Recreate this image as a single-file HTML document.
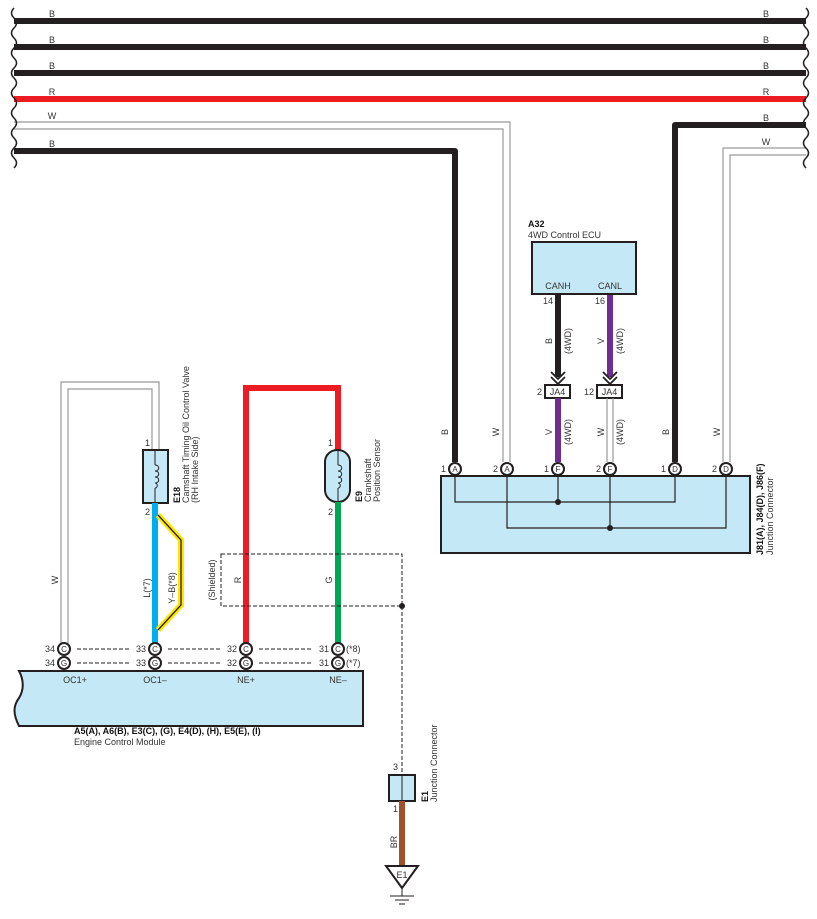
<!DOCTYPE html>
<html><head><meta charset="utf-8"><style>
html,body{margin:0;padding:0;background:#fff;}
svg{display:block;}
text{font-family:"Liberation Sans",sans-serif;font-size:9px;fill:#333;}
.b{font-weight:bold;fill:#111;}
</style></head><body>
<svg width="817" height="919" viewBox="0 0 817 919" xmlns="http://www.w3.org/2000/svg">
<!-- top wires -->
<g fill="none" stroke-linejoin="round">
<line x1="14" y1="21" x2="806" y2="21" stroke="#231f20" stroke-width="6"/>
<line x1="14" y1="47" x2="806" y2="47" stroke="#231f20" stroke-width="6"/>
<line x1="14" y1="73" x2="806" y2="73" stroke="#231f20" stroke-width="6"/>
<line x1="14" y1="99" x2="806" y2="99" stroke="#ed1c24" stroke-width="6"/>
<path d="M14 122 H510 V462" stroke="#999" stroke-width="1.2"/>
<path d="M14 129 H503 V462" stroke="#999" stroke-width="1.2"/>
<path d="M14 151 H455 V462" stroke="#231f20" stroke-width="6"/>
<path d="M806 125 H675 V462" stroke="#231f20" stroke-width="6"/>
<path d="M806 148 H723 V462" stroke="#999" stroke-width="1.2"/>
<path d="M806 155 H730 V462" stroke="#999" stroke-width="1.2"/>
<!-- squiggles -->
<path d="M14 8 q-5 5 0 10 q5 5 0 10 q-5 5 0 10 q5 5 0 10 q-5 5 0 10 q5 5 0 10 q-5 5 0 10 q5 5 0 10 q-5 5 0 10 q5 5 0 10 q-5 5 0 10 q5 5 0 10 q-5 5 0 10 q5 5 0 10 q-5 5 0 10 q5 5 0 10" stroke="#231f20" stroke-width="1.5"/>
<path d="M806 8 q5 5 0 10 q-5 5 0 10 q5 5 0 10 q-5 5 0 10 q5 5 0 10 q-5 5 0 10 q5 5 0 10 q-5 5 0 10 q5 5 0 10 q-5 5 0 10 q5 5 0 10 q-5 5 0 10 q5 5 0 10 q-5 5 0 10 q5 5 0 10 q-5 5 0 10" stroke="#231f20" stroke-width="1.5"/>
</g>
<g text-anchor="middle">
<text x="52" y="17">B</text><text x="52" y="43">B</text><text x="52" y="69">B</text><text x="52" y="95">R</text><text x="52" y="119">W</text><text x="52" y="147">B</text>
<text x="766" y="17">B</text><text x="766" y="43">B</text><text x="766" y="69">B</text><text x="766" y="95">R</text><text x="766" y="121">B</text><text x="766" y="145">W</text>
</g>
<!-- A32 ECU -->
<text x="528" y="227" class="b">A32</text>
<text x="528" y="238">4WD Control ECU</text>
<rect x="532" y="242" width="104" height="52" fill="#c5e8f7" stroke="#231f20" stroke-width="2"/>
<text x="558" y="289" text-anchor="middle">CANH</text>
<text x="610" y="289" text-anchor="middle">CANL</text>
<line x1="558" y1="295" x2="558" y2="377" stroke="#231f20" stroke-width="6"/>
<line x1="610" y1="295" x2="610" y2="377" stroke="#6f2c91" stroke-width="6"/>
<g fill="none" stroke="#231f20" stroke-width="1.8">
<path d="M551 372 l7 7 l7 -7 M551 377 l7 7 l7 -7"/>
<path d="M603 372 l7 7 l7 -7 M603 377 l7 7 l7 -7"/>
</g>
<text x="553" y="304" text-anchor="end">14</text><text x="605" y="304" text-anchor="end">16</text>
<rect x="545" y="385" width="25" height="13" fill="#fff" stroke="#231f20" stroke-width="2"/>
<rect x="597" y="385" width="25" height="13" fill="#fff" stroke="#231f20" stroke-width="2"/>
<text x="557.5" y="395" text-anchor="middle">JA4</text><text x="609.5" y="395" text-anchor="middle">JA4</text>
<text x="542" y="395" text-anchor="end">2</text><text x="594" y="395" text-anchor="end">12</text>
<line x1="558" y1="398" x2="558" y2="462" stroke="#6f2c91" stroke-width="6"/>
<line x1="607" y1="398" x2="607" y2="462" stroke="#999" stroke-width="1.2"/>
<line x1="613" y1="398" x2="613" y2="462" stroke="#999" stroke-width="1.2"/>
<!-- rotated labels -->
<g>
<text transform="translate(552,341) rotate(-90)" text-anchor="middle">B</text>
<text transform="translate(571,341) rotate(-90)" text-anchor="middle">(4WD)</text>
<text transform="translate(604,341) rotate(-90)" text-anchor="middle">V</text>
<text transform="translate(623,341) rotate(-90)" text-anchor="middle">(4WD)</text>
<text transform="translate(448,432) rotate(-90)" text-anchor="middle">B</text>
<text transform="translate(499,432) rotate(-90)" text-anchor="middle">W</text>
<text transform="translate(552,432) rotate(-90)" text-anchor="middle">V</text>
<text transform="translate(571,432) rotate(-90)" text-anchor="middle">(4WD)</text>
<text transform="translate(604,432) rotate(-90)" text-anchor="middle">W</text>
<text transform="translate(623,432) rotate(-90)" text-anchor="middle">(4WD)</text>
<text transform="translate(669,432) rotate(-90)" text-anchor="middle">B</text>
<text transform="translate(720,432) rotate(-90)" text-anchor="middle">W</text>
</g>
<!-- Junction connector box -->
<rect x="441" y="476" width="309" height="77" fill="#c5e8f7" stroke="#231f20" stroke-width="2"/>
<g fill="none" stroke="#231f20" stroke-width="1.2">
<path d="M455 474 V502 H675 V474"/><line x1="558" y1="474" x2="558" y2="502"/>
<path d="M507 474 V528 H726 V474"/><line x1="610" y1="474" x2="610" y2="528"/>
</g>
<circle cx="558" cy="502" r="3" fill="#231f20"/><circle cx="610" cy="528" r="3" fill="#231f20"/>
<g stroke="#231f20" stroke-width="2" fill="#fff">
<circle cx="455" cy="469" r="6"/><circle cx="507" cy="469" r="6"/><circle cx="558" cy="469" r="6"/><circle cx="610" cy="469" r="6"/><circle cx="675" cy="469" r="6"/><circle cx="726" cy="469" r="6"/>
</g>
<g text-anchor="middle" font-size="8">
<text x="455" y="472" style="font-size:8px">A</text><text x="507" y="472" style="font-size:8px">A</text><text x="558" y="472" style="font-size:8px">F</text><text x="610" y="472" style="font-size:8px">F</text><text x="675" y="472" style="font-size:8px">D</text><text x="726" y="472" style="font-size:8px">D</text>
</g>
<text x="446" y="472" text-anchor="end">1</text><text x="498" y="472" text-anchor="end">2</text><text x="549" y="472" text-anchor="end">1</text><text x="601" y="472" text-anchor="end">2</text><text x="666" y="472" text-anchor="end">1</text><text x="717" y="472" text-anchor="end">2</text>
<text transform="translate(763,555) rotate(-90)" class="b">J81(A), J84(D), J86(F)</text>
<text transform="translate(773,555) rotate(-90)">Junction Connector</text>
<!-- left W loop -->
<path d="M61 643 V382 H159 V450" fill="none" stroke="#999" stroke-width="1.2"/>
<path d="M68 643 V389 H152 V450" fill="none" stroke="#999" stroke-width="1.2"/>
<text transform="translate(58,580) rotate(-90)" text-anchor="middle">W</text>
<!-- E18 -->
<rect x="143" y="450" width="25" height="53" fill="#c5e8f7" stroke="#231f20" stroke-width="2"/>
<path d="M155 451 V465 M155 488 V502" stroke="#231f20" stroke-width="1"/>
<path d="M155 465 c5 0 5 6 0 6 c5 0 5 6 0 6 c5 0 5 6 0 6 c3 0 3 5 0 5" fill="none" stroke="#231f20" stroke-width="1"/>
<text x="150" y="446" text-anchor="end">1</text><text x="150" y="515" text-anchor="end">2</text>
<text transform="translate(180,503) rotate(-90)" class="b">E18</text>
<text transform="translate(189,503) rotate(-90)">Camshaft Timing Oil Control Valve</text>
<text transform="translate(198,503) rotate(-90)">(RH Intake Side)</text>
<line x1="155" y1="503" x2="155" y2="643" stroke="#00aeef" stroke-width="6"/>
<path d="M158 515 L181 540 V605 L158 630" fill="none" stroke="#ffe600" stroke-width="6"/>
<path d="M158 515 L181 540 V605 L158 630" fill="none" stroke="#231f20" stroke-width="1.3"/>
<text transform="translate(150,588) rotate(-90)" text-anchor="middle">L(*7)</text>
<text transform="translate(175,588) rotate(-90)" text-anchor="middle">Y–B(*8)</text>
<!-- red loop -->
<path d="M246 643 V388 H338 V450" fill="none" stroke="#ed1c24" stroke-width="6"/>
<!-- E9 -->
<rect x="325" y="450" width="25" height="52" rx="12" fill="#c5e8f7" stroke="#231f20" stroke-width="2"/>
<path d="M338 451 V465 M338 488 V501" stroke="#231f20" stroke-width="1"/>
<path d="M338 465 c5 0 5 6 0 6 c5 0 5 6 0 6 c5 0 5 6 0 6 c3 0 3 5 0 5" fill="none" stroke="#231f20" stroke-width="1"/>
<text x="333" y="446" text-anchor="end">1</text><text x="333" y="515" text-anchor="end">2</text>
<text transform="translate(362,502) rotate(-90)" class="b">E9</text>
<text transform="translate(371,502) rotate(-90)">Crankshaft</text>
<text transform="translate(380,502) rotate(-90)">Position Sensor</text>
<line x1="338" y1="502" x2="338" y2="643" stroke="#00a651" stroke-width="6"/>
<text transform="translate(241,580) rotate(-90)" text-anchor="middle">R</text>
<text transform="translate(332,580) rotate(-90)" text-anchor="middle">G</text>
<!-- shield -->
<rect x="221" y="554" width="181" height="52" fill="none" stroke="#231f20" stroke-width="1" stroke-dasharray="4,2"/>
<text transform="translate(215,580) rotate(-90)" text-anchor="middle">(Shielded)</text>
<circle cx="402" cy="606" r="3" fill="#231f20"/>
<line x1="402" y1="606" x2="402" y2="775" stroke="#231f20" stroke-width="1" stroke-dasharray="4,2"/>
<!-- ECM pins -->
<g stroke="#231f20" stroke-width="1" stroke-dasharray="4,2">
<line x1="77" y1="649" x2="130" y2="649"/><line x1="77" y1="663" x2="130" y2="663"/>
<line x1="168" y1="649" x2="221" y2="649"/><line x1="168" y1="663" x2="221" y2="663"/>
<line x1="259" y1="649" x2="313" y2="649"/><line x1="259" y1="663" x2="313" y2="663"/>
</g>
<g stroke="#231f20" stroke-width="2" fill="#fff">
<circle cx="64" cy="649" r="6"/><circle cx="64" cy="663" r="6"/>
<circle cx="155" cy="649" r="6"/><circle cx="155" cy="663" r="6"/>
<circle cx="246" cy="649" r="6"/><circle cx="246" cy="663" r="6"/>
<circle cx="338" cy="649" r="6"/><circle cx="338" cy="663" r="6"/>
</g>
<g text-anchor="middle">
<text x="64" y="652" style="font-size:8px">C</text><text x="64" y="666" style="font-size:8px">G</text>
<text x="155" y="652" style="font-size:8px">C</text><text x="155" y="666" style="font-size:8px">G</text>
<text x="246" y="652" style="font-size:8px">C</text><text x="246" y="666" style="font-size:8px">G</text>
<text x="338" y="652" style="font-size:8px">C</text><text x="338" y="666" style="font-size:8px">G</text>
</g>
<g text-anchor="end">
<text x="55" y="652">34</text><text x="55" y="666">34</text>
<text x="146" y="652">33</text><text x="146" y="666">33</text>
<text x="237" y="652">32</text><text x="237" y="666">32</text>
<text x="329" y="652">31</text><text x="329" y="666">31</text>
</g>
<text x="346" y="652">(*8)</text><text x="346" y="666">(*7)</text>
<!-- ECM box -->
<path d="M19 671 H363 V726 H19 C13 714 13 706 19 698 C24 690 24 680 19 671 Z" fill="#c5e8f7" stroke="#231f20" stroke-width="2"/>
<g text-anchor="middle">
<text x="75" y="683">OC1+</text><text x="155" y="683">OC1–</text><text x="246" y="683">NE+</text><text x="338" y="683">NE–</text>
</g>
<text x="74" y="734" class="b">A5(A), A6(B), E3(C), (G), E4(D), (H), E5(E), (I)</text>
<text x="74" y="745">Engine Control Module</text>
<!-- E1 junction -->
<text x="398" y="770" text-anchor="end">3</text>
<rect x="389" y="775" width="26" height="26" fill="#c5e8f7" stroke="#231f20" stroke-width="2"/>
<line x1="402" y1="775" x2="402" y2="801" stroke="#231f20" stroke-width="1"/>
<text x="398" y="812" text-anchor="end">1</text>
<text transform="translate(428,802) rotate(-90)" class="b">E1</text>
<text transform="translate(437,802) rotate(-90)">Junction Connector</text>
<line x1="402" y1="801" x2="402" y2="866" stroke="#a0522d" stroke-width="6"/>
<text transform="translate(397,842) rotate(-90)" text-anchor="middle">BR</text>
<path d="M386 866 H418 L402 888 Z" fill="#fff" stroke="#231f20" stroke-width="2"/>
<text x="402" y="878" text-anchor="middle">E1</text>
<g stroke="#231f20" stroke-width="1">
<line x1="402" y1="888" x2="402" y2="896"/>
<line x1="390" y1="896" x2="414" y2="896"/>
<line x1="395" y1="900" x2="409" y2="900"/>
<line x1="399" y1="904" x2="405" y2="904"/>
</g>
</svg>
</body></html>
